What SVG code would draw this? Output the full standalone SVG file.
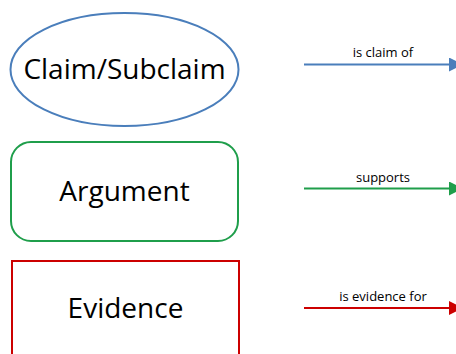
<svg xmlns="http://www.w3.org/2000/svg" width="456" height="354" viewBox="0 0 456 354">
  <style>
    .big { font-family: "Open Sans", "Liberation Sans", sans-serif; font-size: 28px; fill: #000; text-anchor: middle; }
    .lbl { font-family: "Open Sans", "Liberation Sans", sans-serif; font-size: 13px; fill: #000; text-anchor: middle; }
    .node { fill: #fff; stroke-width: 2; }
    .edge { fill: none; stroke-width: 2; }
  </style>
  <defs>
    <marker id="ahBlue" viewBox="0 0 10 10" refX="10" refY="5" markerWidth="7" markerHeight="7" orient="auto" markerUnits="strokeWidth">
      <path d="M0,0 L10,5 L0,10 z" fill="#4a7ebb"/>
    </marker>
    <marker id="ahGreen" viewBox="0 0 10 10" refX="10" refY="5" markerWidth="7" markerHeight="7" orient="auto" markerUnits="strokeWidth">
      <path d="M0,0 L10,5 L0,10 z" fill="#1f9e4b"/>
    </marker>
    <marker id="ahRed" viewBox="0 0 10 10" refX="10" refY="5" markerWidth="7" markerHeight="7" orient="auto" markerUnits="strokeWidth">
      <path d="M0,0 L10,5 L0,10 z" fill="#cc0000"/>
    </marker>
  </defs>

  <g id="claim">
    <ellipse class="node" cx="124.5" cy="69.5" rx="114" ry="56.5" stroke="#4a7ebb"/>
    <text class="big" x="124.5" y="79">Claim/Subclaim</text>
  </g>

  <g id="argument">
    <rect class="node" x="11" y="142" width="227" height="99" rx="20" ry="20" stroke="#1f9e4b"/>
    <text class="big" x="124.5" y="201">Argument</text>
  </g>

  <g id="evidence">
    <rect class="node" x="12" y="261" width="227" height="110" stroke="#cc0000"/>
    <text class="big" x="125.5" y="318">Evidence</text>
  </g>

  <g id="connectors">
    <line class="edge" x1="304" y1="64.5" x2="463" y2="64.5" stroke="#4a7ebb" marker-end="url(#ahBlue)"/>
    <text class="lbl" x="383" y="57">is claim of</text>
    <line class="edge" x1="304" y1="188.5" x2="463" y2="188.5" stroke="#1f9e4b" marker-end="url(#ahGreen)"/>
    <text class="lbl" x="383" y="182">supports</text>
    <line class="edge" x1="304" y1="308" x2="463" y2="308" stroke="#cc0000" marker-end="url(#ahRed)"/>
    <text class="lbl" x="383" y="301">is evidence for</text>
  </g>
</svg>
